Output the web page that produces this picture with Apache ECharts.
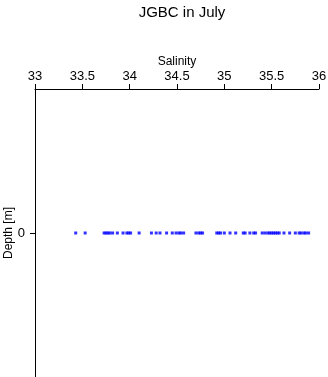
<!DOCTYPE html>
<html>
<head>
<meta charset="utf-8">
<script src="https://cdn.jsdelivr.net/npm/echarts@6/dist/echarts.min.js"></script>
<style>html,body{margin:0;padding:0;background:#fff}#c{width:328px;height:377px}</style>
</head>
<body>
<div id="c"></div>
<script>
var titleText = 'JGBC in July';
var xName = 'Salinity';
var yName = 'Depth [m]';
var xTicks = [33, 33.5, 34, 34.5, 35, 35.5, 36];
var yTicks = [0];
var salinity = [33.43, 33.53, 33.73, 33.75, 33.77, 33.79, 33.82, 33.87, 33.93, 33.97, 33.99, 34.01,
  34.10, 34.23, 34.28, 34.32, 34.39, 34.45, 34.49, 34.52, 34.54, 34.57, 34.70, 34.73, 34.75, 34.77,
  34.92, 34.94, 34.96, 35.00, 35.06, 35.12, 35.20, 35.22, 35.27, 35.31, 35.33, 35.40, 35.43, 35.46,
  35.48, 35.50, 35.52, 35.54, 35.56, 35.58, 35.63, 35.69, 35.75, 35.79, 35.81, 35.84, 35.86, 35.89];
var depth = salinity.map(function(){ return 0; });

var pts = salinity.map(function(s, i){ return [s, depth[i]]; });
var font = 'Liberation Sans, Arial, sans-serif';
var chart = echarts.init(document.getElementById('c'), null, {renderer: 'canvas'});
chart.setOption({
  animation: false,
  backgroundColor: '#fff',
  title: {
    text: titleText, left: 177, top: 0, textAlign: 'center',
    textStyle: {fontFamily: font, fontSize: 15, fontWeight: 'normal', color: '#000'}
  },
  grid: {left: 35, right: 9, top: 89, bottom: 0, containLabel: false, outerBoundsMode: 'none'},
  xAxis: {
    type: 'value', position: 'top', min: 33, max: 36, interval: 0.5,
    name: xName, nameLocation: 'middle', nameGap: 21, nameMoveOverlap: false,
    nameTextStyle: {fontFamily: font, fontSize: 12, color: '#000'},
    axisLine: {show: true, onZero: false, lineStyle: {color: '#000', width: 1}},
    axisTick: {show: true, length: 5, lineStyle: {color: '#000'}},
    axisLabel: {fontFamily: font, fontSize: 13, color: '#000', margin: 6,
      customValues: xTicks, formatter: function(v){ return String(v); }},
    splitLine: {show: false}
  },
  yAxis: {
    type: 'value', inverse: true, min: -1, max: 1,
    name: yName, nameLocation: 'middle', nameGap: 20, nameMoveOverlap: false,
    nameTextStyle: {fontFamily: font, fontSize: 12, color: '#000'},
    axisLine: {show: true, onZero: false, lineStyle: {color: '#000', width: 1}},
    axisTick: {show: true, length: 5, customValues: yTicks, lineStyle: {color: '#000'}},
    axisLabel: {fontFamily: font, fontSize: 13, color: '#000', margin: 10, customValues: yTicks},
    splitLine: {show: false}
  },
  series: [{
    type: 'scatter', data: pts, symbol: 'rect', symbolSize: [3, 3],
    itemStyle: {color: '#0000ff'}
  }]
});
</script>
</body>
</html>
